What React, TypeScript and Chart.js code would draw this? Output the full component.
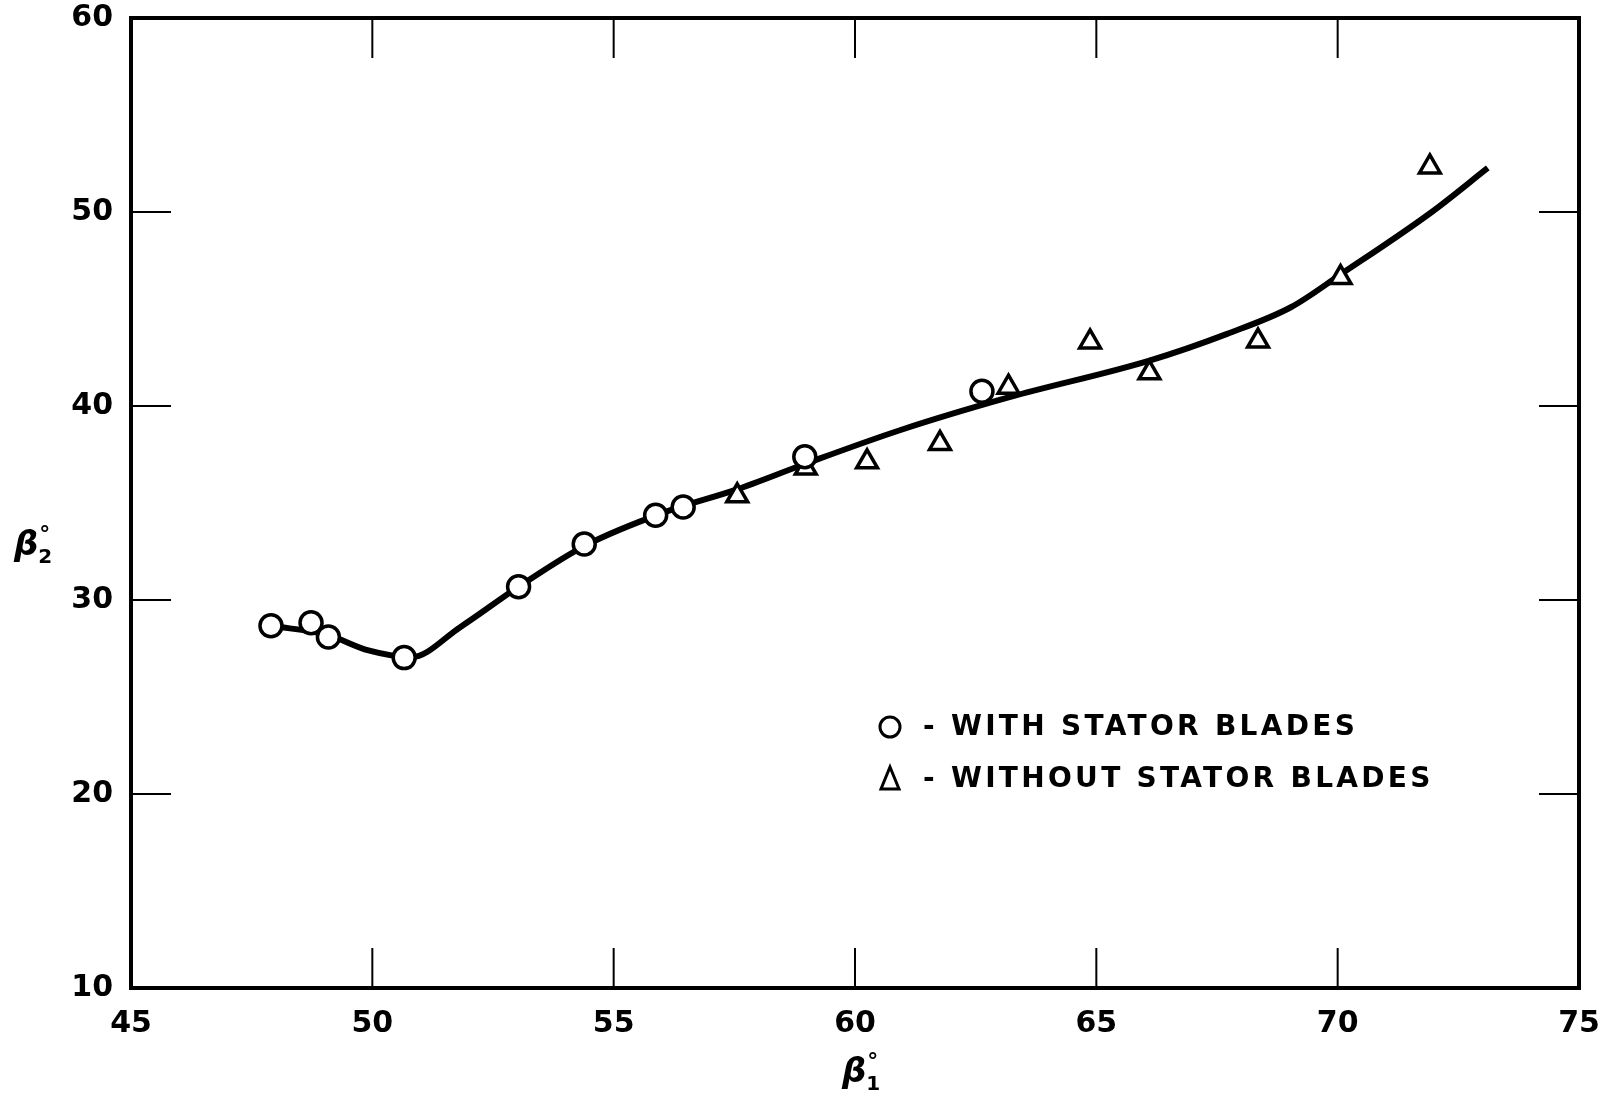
import React, { useEffect, useRef } from "react";
import { Chart, registerables } from "chart.js";

Chart.register(...registerables);

// ---- data ----
const withStatorX = [47.9, 48.73, 49.09, 50.66, 53.03, 54.39, 55.87, 56.44, 58.96, 62.63];
const withStatorY = [28.67, 28.83, 28.09, 27.03, 30.68, 32.89, 34.37, 34.79, 37.38, 40.76];

const withoutStatorX = [57.56, 58.98, 60.25, 61.76, 63.18, 64.87, 66.1, 68.35, 70.06, 71.91];
const withoutStatorY = [35.37, 36.8, 37.12, 38.07, 40.97, 43.3, 41.71, 43.35, 46.62, 52.32];

const curveX = [47.9, 49.07, 49.92, 50.8, 51.82, 53.03, 54.39, 56.06, 57.54, 58.96, 60.93, 63.18, 66.1, 67.71, 69.03, 70.06, 71.95, 73.11];
const curveY = [28.67, 28.2, 27.4, 27.05, 28.6, 30.68, 32.78, 34.53, 35.69, 37.01, 38.75, 40.44, 42.34, 43.72, 45.09, 46.78, 50.0, 52.27];

const xTicks = [45, 50, 55, 60, 65, 70, 75];
const yTicks = [10, 20, 30, 40, 50, 60];
const innerTicksX = [50, 55, 60, 65, 70];
const innerTicksY = [20, 30, 40, 50];

const legendLabels = ["- WITH STATOR BLADES", "- WITHOUT STATOR BLADES"];
const xTitle = { base: "β", sub: "1", sup: "°" };
const yTitle = { base: "β", sub: "2", sup: "°" };

const FONT = "'DejaVu Sans', sans-serif";

const toPts = (xs: number[], ys: number[]) => xs.map((x, i) => ({ x, y: ys[i] }));

const framePlugin = {
  id: "frameAndTicks",
  beforeDatasetsDraw(chart: any) {
    const { ctx, chartArea: a, scales } = chart;
    const xs = scales.x;
    const ys = scales.y;
    ctx.save();
    ctx.strokeStyle = "#000";
    ctx.lineWidth = 2;
    const L = 40;
    ctx.beginPath();
    innerTicksX.forEach((v) => {
      const px = xs.getPixelForValue(v);
      ctx.moveTo(px, a.bottom);
      ctx.lineTo(px, a.bottom - L);
      ctx.moveTo(px, a.top);
      ctx.lineTo(px, a.top + L);
    });
    innerTicksY.forEach((v) => {
      const py = ys.getPixelForValue(v);
      ctx.moveTo(a.left, py);
      ctx.lineTo(a.left + L, py);
      ctx.moveTo(a.right, py);
      ctx.lineTo(a.right - L, py);
    });
    ctx.stroke();
    ctx.lineWidth = 4;
    ctx.strokeRect(a.left, a.top, a.right - a.left, a.bottom - a.top);
    ctx.restore();
  },
  afterDatasetsDraw(chart: any) {
    const { ctx } = chart;
    ctx.save();
    ctx.fillStyle = "#000";
    ctx.strokeStyle = "#000";
    // legend
    ctx.font = `bold 28px ${FONT}`;
    (ctx as any).letterSpacing = "3.3px";
    ctx.textBaseline = "middle";
    ctx.textAlign = "left";
    ctx.lineWidth = 3;
    // circle symbol
    ctx.beginPath();
    ctx.arc(890, 727, 10, 0, Math.PI * 2);
    ctx.fillStyle = "#fff";
    ctx.fill();
    ctx.stroke();
    ctx.fillStyle = "#000";
    ctx.fillText(legendLabels[0], 923, 728);
    // triangle symbol
    ctx.beginPath();
    ctx.moveTo(890, 767);
    ctx.lineTo(899, 789);
    ctx.lineTo(881, 789);
    ctx.closePath();
    ctx.stroke();
    ctx.fillText(legendLabels[1], 923, 780);
    (ctx as any).letterSpacing = "0px";

    const drawTitle = (t: { base: string; sub: string; sup: string }, x: number, y: number) => {
      ctx.textBaseline = "alphabetic";
      ctx.font = `italic bold 34px ${FONT}`;
      ctx.fillText(t.base, x, y);
      const w = ctx.measureText(t.base).width;
      ctx.font = `bold 20px ${FONT}`;
      ctx.fillText(t.sub, x + w, y + 8);
      ctx.font = `bold 22px ${FONT}`;
      ctx.fillText(t.sup, x + w + 1, y - 14);
    };
    drawTitle(yTitle, 14, 555);
    drawTitle(xTitle, 842, 1082);
    ctx.restore();
  },
};

export default function App() {
  const ref = useRef<HTMLCanvasElement | null>(null);
  useEffect(() => {
    if (!ref.current) return;
    const chart = new Chart(ref.current, {
      type: "scatter",
      data: {
        datasets: [
          {
            type: "line",
            label: "curve",
            data: toPts(curveX, curveY),
            borderColor: "#000",
            borderWidth: 6,
            pointRadius: 0,
            cubicInterpolationMode: "monotone",
            fill: false,
            order: 3,
          } as any,
          {
            label: "With stator blades",
            data: toPts(withStatorX, withStatorY),
            pointStyle: "circle",
            pointRadius: 11,
            pointBorderWidth: 3.5,
            borderColor: "#000",
            backgroundColor: "#fff",
            order: 1,
          },
          {
            label: "Without stator blades",
            data: toPts(withoutStatorX, withoutStatorY),
            pointStyle: "triangle",
            pointRadius: 12,
            pointBorderWidth: 3.5,
            borderColor: "#000",
            backgroundColor: "#fff",
            order: 2,
          },
        ],
      },
      options: {
        animation: false,
        responsive: false,
        maintainAspectRatio: false,
        layout: { padding: { left: 0, top: 18, right: 27, bottom: 0 } },
        plugins: { legend: { display: false }, tooltip: { enabled: false } },
        scales: {
          x: {
            type: "linear",
            min: 45,
            max: 75,
            afterBuildTicks: (s: any) => {
              s.ticks = xTicks.map((v) => ({ value: v }));
            },
            afterFit: (s: any) => {
              s.height = 105;
              s.paddingLeft = 0;
              s.paddingRight = 0;
            },
            ticks: {
              color: "#000",
              font: { family: FONT, size: 30, weight: "bold" },
              padding: 18,
              maxRotation: 0,
            },
            grid: { display: false, drawTicks: false },
            border: { display: false },
          },
          y: {
            type: "linear",
            min: 10,
            max: 60,
            afterBuildTicks: (s: any) => {
              s.ticks = yTicks.map((v) => ({ value: v }));
            },
            afterFit: (s: any) => {
              s.width = 131;
              s.paddingTop = 0;
              s.paddingBottom = 0;
            },
            ticks: {
              color: "#000",
              font: { family: FONT, size: 30, weight: "bold" },
              padding: 18,
            },
            grid: { display: false, drawTicks: false },
            border: { display: false },
          },
        },
      },
      plugins: [framePlugin],
    });
    return () => chart.destroy();
  }, []);
  return (
    <div style={{ position: "absolute", left: 0, top: 0, width: 1606, height: 1093, background: "#fff" }}>
      <canvas ref={ref} width={1606} height={1093} style={{ width: 1606, height: 1093 }} />
    </div>
  );
}
